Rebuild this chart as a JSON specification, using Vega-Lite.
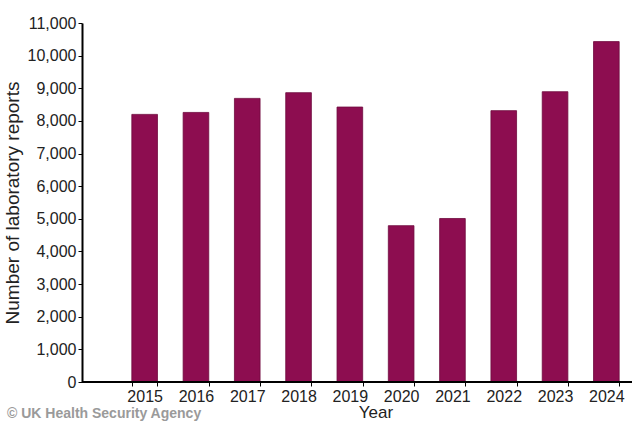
{
  "$schema": "https://vega.github.io/schema/vega-lite/v6.json",
  "width": 550,
  "height": 359,
  "autosize": {"type": "none"},
  "padding": {"left": 82, "top": 23, "right": 2, "bottom": 43},
  "background": "white",
  "config": {
    "view": {"stroke": null},
    "font": "Liberation Sans"
  },
  "title": {
    "text": "© UK Health Security Agency",
    "orient": "bottom",
    "anchor": "start",
    "frame": "group",
    "dx": -75,
    "offset": -13,
    "font": "Liberation Sans",
    "fontSize": 14,
    "fontWeight": "bold",
    "color": "#9a9a9a"
  },
  "data": {
    "values": [
      {"year": "2015", "reports": 8200},
      {"year": "2016", "reports": 8260},
      {"year": "2017", "reports": 8690},
      {"year": "2018", "reports": 8865},
      {"year": "2019", "reports": 8425},
      {"year": "2020", "reports": 4790},
      {"year": "2021", "reports": 5010},
      {"year": "2022", "reports": 8315},
      {"year": "2023", "reports": 8895},
      {"year": "2024", "reports": 10430}
    ]
  },
  "layer": [
    {
      "mark": {"type": "bar", "color": "#8d0d50", "stroke": "#6e0a3e", "strokeWidth": 0.8},
      "encoding": {
        "x": {
          "field": "year",
          "type": "ordinal",
          "scale": {"range": [37, 550], "paddingInner": 0.5, "paddingOuter": 0.25},
          "axis": {
            "title": "Year",
            "labelAngle": 0,
            "domain": false,
            "tickBand": "extent",
            "tickColor": "#000",
            "tickSize": 4,
            "tickWidth": 1,
            "labelFontSize": 16,
            "labelColor": "#222",
            "labelPadding": 2,
            "titleFontSize": 17,
            "titleFontWeight": "normal",
            "titleColor": "#222",
            "titlePadding": 0
          }
        },
        "y": {
          "field": "reports",
          "type": "quantitative",
          "scale": {"domain": [0, 11000], "nice": false},
          "axis": {
            "title": "Number of laboratory reports",
            "tickCount": 11,
            "format": ",d",
            "labelOverlap": false,
            "grid": false,
            "domainColor": "#000",
            "domainWidth": 2,
            "tickColor": "#000",
            "tickSize": 4,
            "tickWidth": 1,
            "labelFontSize": 16,
            "labelColor": "#222",
            "labelPadding": 2,
            "titleFontSize": 19,
            "titleFontWeight": "normal",
            "titleColor": "#222",
            "titlePadding": 5
          }
        }
      }
    },
    {
      "mark": {"type": "rule", "color": "#000", "strokeWidth": 2},
      "encoding": {
        "y": {
          "datum": 0,
          "type": "quantitative",
          "axis": {
            "title": "Number of laboratory reports",
            "tickCount": 11,
            "format": ",d",
            "labelOverlap": false,
            "grid": false,
            "domainColor": "#000",
            "domainWidth": 2,
            "tickColor": "#000",
            "tickSize": 4,
            "tickWidth": 1,
            "labelFontSize": 16,
            "labelColor": "#222",
            "labelPadding": 2,
            "titleFontSize": 19,
            "titleFontWeight": "normal",
            "titleColor": "#222",
            "titlePadding": 5
          }
        }
      }
    }
  ]
}
